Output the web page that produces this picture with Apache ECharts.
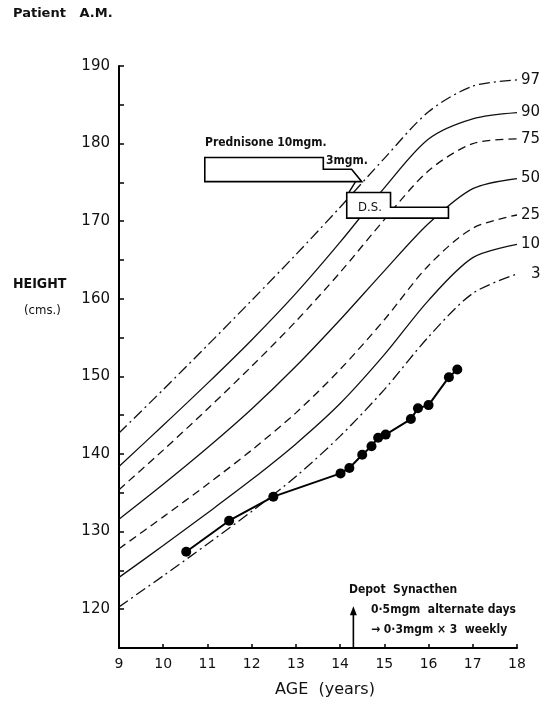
<!DOCTYPE html>
<html>
<head>
<meta charset="utf-8">
<script src="https://cdn.jsdelivr.net/npm/echarts@6/dist/echarts.min.js"></script>
<style>
html,body{margin:0;padding:0;background:#fff;}
#c{width:551px;height:703px;}
</style>
</head>
<body>
<div id="c"></div>
<script>
// ---- data ----
const ages = [9, 10, 11, 12, 13, 14, 15, 16, 17, 18];
const p97 = [142.7, 148.3, 154.0, 159.8, 165.7, 171.8, 178.1, 184.1, 187.4, 188.2];
const p90 = [138.4, 143.7, 149.1, 154.7, 160.7, 167.3, 174.3, 180.6, 183.2, 184.0];
const p75 = [135.4, 140.5, 145.8, 151.3, 157.1, 163.4, 170.2, 176.5, 180.0, 180.6];
const p50 = [131.6, 136.1, 140.8, 145.8, 151.3, 157.3, 163.6, 169.7, 174.2, 175.5];
const p25 = [127.8, 131.9, 136.1, 140.5, 145.3, 150.9, 157.3, 164.3, 169.1, 170.8];
const p10 = [124.1, 128.2, 132.4, 136.7, 141.3, 146.5, 152.8, 159.8, 165.3, 167.0];
const p3  = [120.3, 124.3, 128.4, 132.6, 137.1, 142.3, 148.3, 155.1, 160.7, 163.2];

const patientAge = [10.52, 11.49, 12.49, 14.01, 14.21, 14.5, 14.71, 14.86, 15.03, 15.6, 15.76, 16.0, 16.46, 16.65];
const patientHeight = [127.4, 131.4, 134.5, 137.5, 138.2, 139.9, 141.0, 142.1, 142.5, 144.5, 145.9, 146.3, 149.9, 150.9];

// treatment bars (age, height-scale outline)
const prednisoneBar = [[10.94,175.1],[10.94,178.2],[13.62,178.2],[13.62,176.7],[14.26,176.7],[14.49,175.1]];
const dsBar = [[14.15,170.4],[14.15,173.7],[15.14,173.7],[15.14,171.8],[16.45,171.8],[16.45,170.4]];
const connector = [[14.35,175.1],[14.2,173.7]];
const synacthenAge = 14.3;
const synacthenTop = 119.8;

const yTicks = [120, 130, 140, 150, 160, 170, 180, 190];
const xTicks = [9, 10, 11, 12, 13, 14, 15, 16, 17, 18];

const percentiles = [
  {name: '97', v: p97, type: [11, 4, 2, 4]},
  {name: '90', v: p90, type: 'solid'},
  {name: '75', v: p75, type: [8, 5]},
  {name: '50', v: p50, type: 'solid'},
  {name: '25', v: p25, type: [8, 5]},
  {name: '10', v: p10, type: 'solid'},
  {name: '3',  v: p3,  type: [11, 4, 2, 4]}
];

const FONT = 'DejaVu Sans';
const CFONT = 'DejaVu Sans Condensed';
const chart = echarts.init(document.getElementById('c'));

const series = percentiles.map(p => ({
  name: p.name,
  type: 'line',
  data: ages.map((a, i) => [a, p.v[i]]),
  smooth: 0.3,
  symbol: 'none',
  lineStyle: {color: '#111', width: 1.3, type: p.type},
  endLabel: {
    show: true, formatter: p.name, distance: 4,
    offset: [p.name.length === 1 ? 10 : 0, 0],
    color: '#111', fontFamily: FONT, fontSize: 15
  },
  z: 2
}));

series.push({
  name: 'patient', type: 'line',
  data: patientAge.map((a, i) => [a, patientHeight[i]]),
  symbol: 'circle', symbolSize: 10,
  itemStyle: {color: '#000'},
  lineStyle: {color: '#000', width: 2},
  z: 5
});

series.push({
  type: 'custom',
  data: [[prednisoneBar[0][0], prednisoneBar[0][1]], [dsBar[0][0], dsBar[0][1]]],
  renderItem: (params, api) => {
    const shape = params.dataIndex === 0 ? prednisoneBar : dsBar;
    return {
      type: 'polygon',
      shape: {points: shape.map(p => api.coord(p))},
      style: {fill: '#fff', stroke: '#000', lineWidth: 1.6}
    };
  },
  z: 4, silent: true
});

series.push({
  type: 'line', data: connector, symbol: 'none',
  lineStyle: {color: '#000', width: 1.4}, z: 4, silent: true
});

series.push({
  type: 'line', data: [[synacthenAge, 115], [synacthenAge, synacthenTop]],
  symbol: (v, p) => p.dataIndex === 1 ? 'triangle' : 'none',
  symbolSize: [7, 9],
  itemStyle: {color: '#000'},
  lineStyle: {color: '#000', width: 1.6}, z: 4, silent: true
});

const txt = (x, y, t, size, weight, fam) => ({
  type: 'text', left: x, top: y, z: 100, zlevel: 1,
  style: {text: t, fill: '#111', font: (weight || 'normal') + ' ' + size + 'px "' + (fam || FONT) + '"'}
});

chart.setOption({
  animation: false,
  backgroundColor: '#fff',
  grid: {left: 119, right: 34, top: 66, bottom: 53},
  xAxis: {
    type: 'value', min: 9, max: 18, interval: 1,
    name: 'AGE  (years)', nameLocation: 'middle', nameGap: 34,
    nameTextStyle: {fontFamily: FONT, fontSize: 16, color: '#111', padding: [0, 0, 0, 14]},
    axisLine: {lineStyle: {color: '#000', width: 2}},
    axisTick: {inside: true, length: 4, lineStyle: {color: '#000', width: 1.5}},
    axisLabel: {margin: 9, fontFamily: FONT, fontSize: 14, color: '#111',
      formatter: v => xTicks.includes(v) ? String(v) : ''},
    splitLine: {show: false}
  },
  yAxis: {
    type: 'value', min: 115, max: 190, interval: 5,
    axisLine: {show: true, lineStyle: {color: '#000', width: 2}},
    axisTick: {show: true, inside: true, length: 5, lineStyle: {color: '#000', width: 1.5}},
    axisLabel: {margin: 9, fontFamily: FONT, fontSize: 15, color: '#111',
      formatter: v => yTicks.includes(v) ? String(v) : ''},
    splitLine: {show: false}
  },
  graphic: [
    txt(13, 7, 'Patient   A.M.', 13, 'bold'),
    txt(13, 277, 'HEIGHT', 14, 'bold', CFONT),
    txt(24, 304, '(cms.)', 13, 'normal', CFONT),
    txt(205, 137, 'Prednisone 10mgm.', 12, 'bold', CFONT),
    txt(326, 155, '3mgm.', 12, 'bold', CFONT),
    txt(358, 201, 'D.S.', 13, 'normal', CFONT),
    txt(349, 584, 'Depot  Synacthen', 12, 'bold', CFONT),
    txt(371, 604, '0·5mgm  alternate days', 12, 'bold', CFONT),
    txt(371, 624, '→ 0·3mgm × 3  weekly', 12, 'bold', CFONT)
  ],
  series: series
});
</script>
</body>
</html>
